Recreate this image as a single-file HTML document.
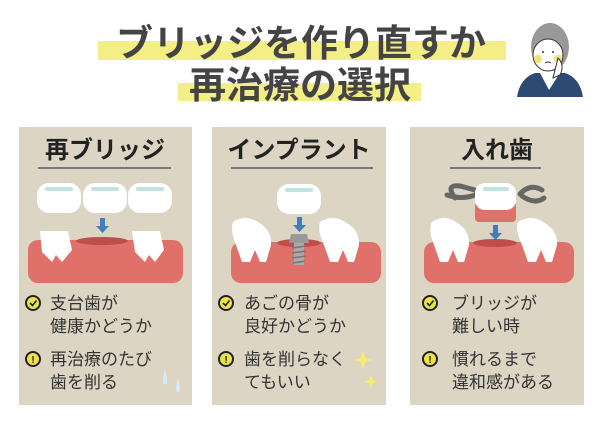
<!DOCTYPE html>
<html><head><meta charset="utf-8"><style>
html,body{margin:0;padding:0;background:#fff;}
svg{display:block;}
text{font-family:"Liberation Sans","Noto Sans CJK JP",sans-serif;}
</style></head><body>
<svg width="600" height="424" viewBox="0 0 600 424" xmlns="http://www.w3.org/2000/svg">
<rect x="98" y="41" width="408" height="19" fill="#f3ee86"/>
<rect x="178" y="83" width="243" height="18" fill="#f3ee86"/>
<text x="301" y="56" text-anchor="middle" font-size="37" font-weight="bold" fill="#444">ブリッジを作り直すか</text>
<text x="300" y="98" text-anchor="middle" font-size="37" font-weight="bold" fill="#444">再治療の選択</text>
<g>
<path d="M517 97 Q520 78 535 73 L565 73 Q580 78 583 97 Z" fill="#2c4a72"/>
<path d="M540 73 L549 90 L560 73 Z" fill="#fff"/>
<ellipse cx="550" cy="47" rx="19" ry="24" fill="#999"/>
<ellipse cx="548" cy="55" rx="15" ry="16" fill="#fff" stroke="#333" stroke-width="1"/>
<circle cx="538" cy="59" r="4" fill="#f4e07a"/>
<circle cx="558" cy="59" r="4" fill="#f4e07a"/>
<path d="M558 58 Q565 65 560 75 L553 78 Z" fill="#fff" stroke="#333" stroke-width="1"/>
<circle cx="543" cy="52" r="1" fill="#333"/><circle cx="553" cy="52" r="1" fill="#333"/>
<path d="M545 63 Q548 61 551 63" stroke="#333" fill="none"/>
</g>

<rect x="19" y="127" width="173" height="278" fill="#ddd5c3"/>
<rect x="212" y="127" width="174" height="278" fill="#ddd5c3"/>
<rect x="410" y="127" width="174" height="278" fill="#ddd5c3"/>

<text x="105" y="158" text-anchor="middle" font-size="24" font-weight="bold" fill="#222">再ブリッジ</text>
<line x1="38" y1="168" x2="171" y2="168" stroke="#777" stroke-width="2"/>
<text x="299" y="158" text-anchor="middle" font-size="24" font-weight="bold" fill="#222">インプラント</text>
<line x1="231" y1="168" x2="373" y2="168" stroke="#777" stroke-width="2"/>
<text x="497" y="158" text-anchor="middle" font-size="24" font-weight="bold" fill="#222">入れ歯</text>
<line x1="450" y1="168" x2="541" y2="168" stroke="#777" stroke-width="2"/>

<g fill="#fff">
<rect x="37" y="183" width="44" height="30" rx="12"/>
<rect x="83" y="183" width="44" height="30" rx="12"/>
<rect x="128" y="183" width="44" height="30" rx="12"/>
</g>
<g fill="#bfe3df"><rect x="45" y="187" width="28" height="4" rx="2"/><rect x="91" y="187" width="28" height="4" rx="2"/><rect x="136" y="187" width="28" height="4" rx="2"/></g>
<rect x="100" y="218" width="5" height="9" fill="#3f7fbf"/><path d="M96 226 L109 226 L102.5 233 Z" fill="#3f7fbf"/>
<rect x="28" y="240" width="155" height="43" rx="10" fill="#e0716a"/>
<ellipse cx="102" cy="241" rx="26" ry="4" fill="#c04c4c"/>
<path d="M40 231 L68 231 L72 250 L62 262 L56 255 L52 262 L42 252 Z" fill="#fff"/>
<path d="M132 231 L160 231 L164 250 L155 262 L149 255 L145 262 L135 252 Z" fill="#fff"/>

<rect x="277" y="184" width="44" height="30" rx="12" fill="#fff"/>
<rect x="285" y="188" width="28" height="4" rx="2" fill="#bfe3df"/>
<rect x="297" y="217" width="5" height="9" fill="#3f7fbf"/><path d="M293 225 L306 225 L299.5 232 Z" fill="#3f7fbf"/>
<rect x="231" y="242" width="150" height="41" rx="10" fill="#e0716a"/>
<ellipse cx="299" cy="243" rx="22" ry="4" fill="#c04c4c"/>
<path d="M233 222 Q245 214 258 222 Q272 230 271 245 L266 262 L260 262 L255 250 L250 262 L242 262 L236 245 Q230 230 233 222 Z" fill="#fff"/>
<path d="M320 222 Q333 214 345 222 Q360 230 359 245 L354 262 L348 262 L343 250 L338 262 L330 262 L324 245 Q317 230 320 222 Z" fill="#fff"/>
<path d="M291 234 L307 234 L309 243 L289 243 Z" fill="#999"/>
<rect x="294" y="243" width="10" height="22" fill="#aaa"/>
<g stroke="#777" stroke-width="1.5"><line x1="292" y1="248" x2="306" y2="246"/><line x1="292" y1="253" x2="306" y2="251"/><line x1="292" y1="258" x2="306" y2="256"/><line x1="293" y1="263" x2="305" y2="261"/></g>

<path d="M455 198 Q445 184 460 186 L475 190" fill="none" stroke="#666" stroke-width="5" stroke-linecap="round"/>
<path d="M447 195 Q462 200 475 195" fill="none" stroke="#666" stroke-width="5" stroke-linecap="round"/>
<path d="M520 194 Q530 183 542 190" fill="none" stroke="#666" stroke-width="5" stroke-linecap="round"/>
<path d="M522 196 Q535 205 544 198" fill="none" stroke="#666" stroke-width="5" stroke-linecap="round"/>
<rect x="475" y="202" width="41" height="20" rx="4" fill="#e0716a"/>
<rect x="475" y="183" width="41" height="27" rx="10" fill="#fff"/>
<rect x="483" y="187" width="26" height="4" rx="2" fill="#bfe3df"/>
<rect x="493" y="225" width="5" height="9" fill="#3f7fbf"/><path d="M489 233 L502 233 L495.5 240 Z" fill="#3f7fbf"/>
<rect x="424" y="242" width="150" height="41" rx="10" fill="#e0716a"/>
<ellipse cx="495" cy="243" rx="22" ry="4" fill="#c04c4c"/>
<path d="M432 222 Q444 214 456 222 Q470 230 469 245 L464 262 L458 262 L453 250 L448 262 L440 262 L434 245 Q428 230 432 222 Z" fill="#fff"/>
<path d="M518 222 Q531 214 543 222 Q558 230 557 245 L552 262 L546 262 L541 250 L536 262 L528 262 L522 245 Q515 230 518 222 Z" fill="#fff"/>

<g font-size="17" fill="#333">
<circle cx="33" cy="303" r="7" fill="#ece34a" stroke="#222" stroke-width="2"/><path d="M30 303 L32.5 305.5 L36.5 300.5" stroke="#222" stroke-width="1.6" fill="none"/>
<text x="50" y="309">支台歯が</text><text x="50" y="332">健康かどうか</text>
<circle cx="33" cy="359" r="7" fill="#ece34a" stroke="#222" stroke-width="2"/><text x="33" y="363" text-anchor="middle" font-size="10" font-weight="bold" fill="#222">!</text>
<text x="50" y="365">再治療のたび</text><text x="50" y="388">歯を削る</text>
<path d="M165 370 Q167 376 167 383 Q165 386 163 383 Q163 376 165 370 Z" fill="#d4ecf7"/>
<path d="M178 378 Q180 384 180 391 Q178 394 176 391 Q176 384 178 378 Z" fill="#d4ecf7"/>

<circle cx="226" cy="303" r="7" fill="#ece34a" stroke="#222" stroke-width="2"/><path d="M223 303 L225.5 305.5 L229.5 300.5" stroke="#222" stroke-width="1.6" fill="none"/>
<text x="244" y="309">あごの骨が</text><text x="244" y="332">良好かどうか</text>
<circle cx="226" cy="359" r="7" fill="#ece34a" stroke="#222" stroke-width="2"/><text x="226" y="363" text-anchor="middle" font-size="10" font-weight="bold" fill="#222">!</text>
<text x="244" y="365">歯を削らなく</text><text x="244" y="388">てもいい</text>
<path d="M363 350 L365 358 L372 360 L365 362 L363 370 L361 362 L354 360 L361 358 Z" fill="#f6ee6a"/>
<path d="M371 374 L372.5 380 L378 381.5 L372.5 383 L371 389 L369.5 383 L364 381.5 L369.5 380 Z" fill="#f6ee6a"/>

<circle cx="430" cy="303" r="7" fill="#ece34a" stroke="#222" stroke-width="2"/><path d="M427 303 L429.5 305.5 L433.5 300.5" stroke="#222" stroke-width="1.6" fill="none"/>
<text x="452" y="309">ブリッジが</text><text x="452" y="332">難しい時</text>
<circle cx="430" cy="359" r="7" fill="#ece34a" stroke="#222" stroke-width="2"/><text x="430" y="363" text-anchor="middle" font-size="10" font-weight="bold" fill="#222">!</text>
<text x="452" y="365">慣れるまで</text><text x="452" y="388">違和感がある</text>
</g>
</svg>
</body></html>
